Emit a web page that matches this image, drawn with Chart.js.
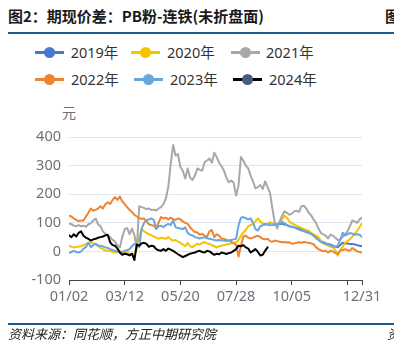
<!DOCTYPE html>
<html><head><meta charset="utf-8">
<script src="https://cdn.jsdelivr.net/npm/chart.js@4/dist/chart.umd.min.js"></script>
<style>
html,body{margin:0;padding:0;width:394px;height:351px;overflow:hidden;background:#fff;}
#wrap{position:relative;width:394px;height:351px;overflow:hidden;}
canvas{position:absolute;left:0;top:0;}
.t{position:absolute;white-space:nowrap;line-height:1;}
.rule{position:absolute;left:8px;width:386px;height:1.5px;background:#1E5A8C;}
#title{left:8px;top:8px;font-family:"Noto Sans CJK SC";font-weight:700;font-size:15px;color:#1a1a1a;}
#title2{left:385px;top:8px;font-family:"Noto Sans CJK SC";font-weight:700;font-size:15px;color:#1a1a1a;}
#src{left:8px;top:327px;font-family:"Noto Sans CJK SC";font-style:italic;font-size:13px;color:#222;}
#src2{left:387px;top:327px;font-family:"Noto Sans CJK SC";font-style:italic;font-size:13px;color:#222;}
#unit{left:62px;top:105px;font-family:"Noto Sans CJK SC";font-size:14px;color:#6E7079;}
.lg{position:absolute;height:20px;line-height:20px;font-family:"Noto Sans","Noto Sans CJK SC";font-size:14.5px;color:#333;white-space:nowrap;}
.ln{position:absolute;height:3px;width:29px;}
.dot{position:absolute;width:11px;height:11px;border-radius:50%;}
</style></head><body>
<div id="wrap">
<div class="t" id="title">图2：期现价差：PB粉-连铁(未折盘面)</div>
<div class="t" id="title2">图</div>
<div class="rule" style="top:32px"></div>
<div id="legend"></div>
<div class="t" id="unit">元</div>
<canvas id="c" width="394" height="351"></canvas>
<div class="rule" style="top:323px"></div>
<div class="t" id="src">资料来源：同花顺，方正中期研究院</div>
<div class="t" id="src2">资</div>
</div>
<script>
// x positions: day offset from 01/02, sampled every 3 days
const days = Array.from({length: 122}, (_, i) => i * 3);
const tickDays = [0, 69, 138, 207, 276, 345, 363];
const tickLabels = ['01/02', '03/12', '05/20', '07/28', '10/05', '', '12/31'];
const seriesNames = ['2019年', '2020年', '2021年', '2022年', '2023年', '2024年'];

const s2019Start = 83; // first sample index that has 2019 data
const s2019 = [100,98,96,95,96,97,94,92,88,86,
  84,82,80,77,74,70,66,62,56,48,
  42,36,32,28,26,24,20,16,14,22,
  30,28,28,26,26,24,22,20,18];
const s2020 = [20,16,14,15,17,18,22,26,30,32,
  28,26,20,12,8,3,2,2,-2,-4,
  0,2,-2,-4,-2,-8,-10,-15,20,50,
  78,70,65,60,56,52,48,44,48,46,
  44,50,42,38,40,34,30,24,18,30,
  18,15,22,26,24,30,32,28,26,22,
  18,14,18,20,22,24,26,28,30,32,
  40,55,66,75,88,92,96,105,115,105,
  98,92,95,102,98,92,96,100,112,125,
  118,105,98,94,90,86,82,78,75,72,
  65,60,55,50,38,28,24,20,16,14,
  5,-15,5,15,30,36,42,52,62,72,
  85,97];
const s2021 = [98,95,90,88,92,88,90,86,95,98,
  108,115,95,88,70,62,55,50,40,35,
  20,14,50,78,82,60,80,58,10,158,
  155,152,148,150,145,146,143,150,155,165,
  185,225,305,372,335,340,295,282,255,290,
  258,250,265,290,285,282,312,318,325,310,
  345,330,310,298,282,258,242,248,240,195,
  230,330,318,300,290,265,245,220,225,232,
  218,245,225,205,150,100,80,105,125,140,
  135,128,132,140,142,138,158,160,150,135,
  126,112,100,80,65,60,55,45,58,55,
  48,40,42,50,60,70,88,108,105,100,
  112,118];
const s2022 = [125,122,115,110,106,108,108,122,135,150,
  142,145,150,158,150,165,172,166,180,190,
  180,192,175,165,155,145,138,128,122,116,
  114,115,104,95,92,90,82,100,120,115,
  118,112,118,113,110,115,112,105,100,96,
  85,75,68,66,58,62,55,52,70,75,
  50,60,55,45,44,40,38,33,28,24,
  -18,20,52,55,48,45,48,52,55,50,
  44,42,44,36,34,38,36,34,32,33,
  31,32,27,28,30,32,30,33,31,30,
  28,25,15,8,4,0,2,-4,2,0,
  -6,-8,2,5,8,4,2,12,6,0,
  -2,-4];
const s2023 = [-5,-2,2,-2,-4,0,10,15,30,15,
  22,26,20,20,17,14,12,8,5,2,
  0,-4,-2,2,4,8,18,26,25,15,
  80,100,108,112,115,110,78,88,90,85,
  92,96,92,108,85,82,80,78,84,65,
  58,56,50,48,45,48,50,46,44,42,
  40,38,40,38,38,36,38,40,42,44,
  90,118,120,116,112,115,100,78,73,88,
  92,96,95,91,92,94,95,98,103,98,
  92,88,85,84,80,76,73,70,67,64,
  62,55,46,40,33,30,27,25,21,18,
  15,20,40,65,56,60,64,62,58,60,
  58,50];
const s2024 = [56,50,60,52,65,70,55,48,44,38,
  42,44,48,50,52,56,58,32,22,20,
  10,-4,-12,-8,-10,-14,-8,-30,24,20,
  28,30,26,16,20,18,8,4,2,8,
  2,10,6,2,-4,-10,-15,-20,-16,-12,
  -8,-6,-4,0,2,-2,-4,2,0,-6,
  -12,-8,-10,-4,-6,-9,-6,-4,2,8,
  20,18,22,14,10,-4,2,8,-2,-14,
  -12,2,14];

const lineColors = ['#4A78D0', '#F5C400', '#A8A8A8', '#EE8430', '#68A6E0', '#000000'];
const dotColors  = ['#4A78D0', '#F5C400', '#A8A8A8', '#EE8430', '#68A6E0', '#4A5B7C'];
const seriesValues = [s2019, s2020, s2021, s2022, s2023, s2024];
const seriesStart = [s2019Start, 0, 0, 0, 0, 0];

// HTML legend
const legendPos = [[35,70.7,52.3],[131,167,52.3],[230.5,266,52.3],[35,71,79.3],[134,170,79.3],[233,269,79.3]];
const lg = document.getElementById('legend');
seriesNames.forEach((name, i) => {
  const [lx, tx, cy] = legendPos[i];
  const ln = document.createElement('div');
  ln.className = 'ln'; ln.style.left = lx + 'px'; ln.style.top = (cy - 1.5) + 'px'; ln.style.background = lineColors[i];
  const dot = document.createElement('div');
  dot.className = 'dot'; dot.style.left = (lx + 14.5 - 5.5) + 'px'; dot.style.top = (cy - 5.5) + 'px'; dot.style.background = dotColors[i];
  const tx_ = document.createElement('div');
  tx_.className = 'lg'; tx_.style.left = tx + 'px'; tx_.style.top = (cy - 10) + 'px'; tx_.textContent = name;
  lg.appendChild(ln); lg.appendChild(dot); lg.appendChild(tx_);
});

const datasets = seriesNames.map((name, i) => ({
  label: name,
  data: seriesValues[i].map((v, j) => ({x: days[seriesStart[i] + j], y: v})),
  borderColor: lineColors[i],
  backgroundColor: lineColors[i],
  borderWidth: 2,
  pointRadius: 0,
  tension: 0,
  fill: false,
  order: seriesNames.length - 1 - i
}));

const tickFont = {family: 'Noto Sans', size: 14.5};
new Chart(document.getElementById('c'), {
  type: 'line',
  data: {datasets},
  options: {
    responsive: false,
    animation: false,
    devicePixelRatio: 1,
    layout: {padding: {top: 137, right: 32, left: 0, bottom: 0}},
    plugins: {legend: {display: false}, tooltip: {enabled: false}},
    elements: {line: {borderJoinStyle: 'round', borderCapStyle: 'round'}},
    scales: {
      x: {
        type: 'linear', min: 0, max: 363,
        afterBuildTicks: s => { s.ticks = tickDays.map(v => ({value: v})); },
        afterFit: s => { s.height = 71; },
        grid: {drawOnChartArea: false, drawTicks: true, tickLength: 5, color: '#444'},
        border: {display: true, color: '#444', width: 1},
        ticks: {
          autoSkip: false, maxRotation: 0, minRotation: 0, padding: 3,
          color: '#6E7079', font: tickFont,
          callback: v => { const k = tickDays.indexOf(v); return k >= 0 ? tickLabels[k] : ''; }
        }
      },
      y: {
        min: -100, max: 400,
        afterFit: s => { s.width = 69; },
        grid: {drawTicks: false, color: c => (c.tick && c.tick.value === -100) ? 'rgba(0,0,0,0)' : '#E0E6F1'},
        border: {display: false},
        ticks: {stepSize: 100, padding: 8, color: '#6E7079', font: tickFont}
      }
    }
  }
});
</script>
</body></html>
